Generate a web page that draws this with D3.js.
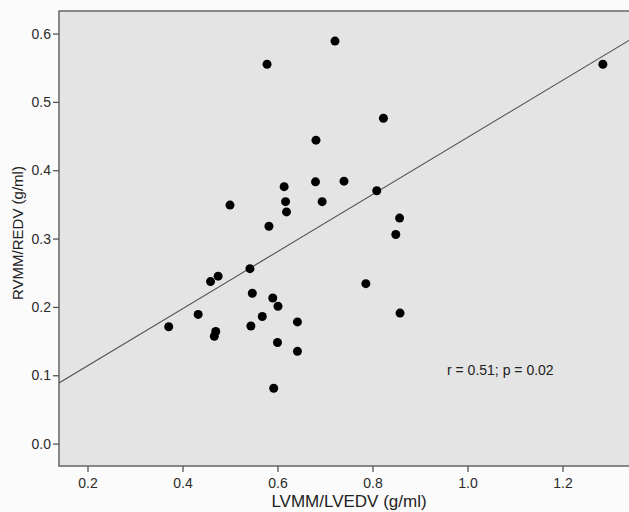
<!DOCTYPE html>
<html><head><meta charset="utf-8">
<script src="https://cdn.jsdelivr.net/npm/d3@7"></script>
<style>body{margin:0;background:#fff;} text{font-family:"Liberation Sans",Arial,sans-serif;}</style>
</head><body><svg id="c" width="629" height="512"></svg>
<script>
const lvmm = [0.371,0.433,0.459,0.475,0.470,0.467,0.542,0.547,0.544,0.568,0.590,0.601,0.600,0.642,0.642,0.592,0.582,0.500,0.619,0.617,0.614,0.680,0.694,0.740,0.681,0.823,0.578,0.721,0.809,0.857,0.849,0.786,0.858,1.285];
const rvmm = [0.171,0.189,0.237,0.245,0.164,0.157,0.256,0.220,0.172,0.186,0.213,0.201,0.148,0.178,0.135,0.081,0.318,0.349,0.339,0.354,0.376,0.383,0.354,0.384,0.444,0.476,0.555,0.589,0.370,0.330,0.306,0.234,0.191,0.555];
const xTicks = [0.2,0.4,0.6,0.8,1.0,1.2];
const yTicks = [0.0,0.1,0.2,0.3,0.4,0.5,0.6];
const fitLine = {intercept:0.0302, slope:0.4178};
const annotation = "r = 0.51; p = 0.02";
const xTitle = "LVMM/LVEDV (g/ml)";
const yTitle = "RVMM/REDV (g/ml)";

const svg = d3.select("#c");
const L=59, T=11, R=629, B=466;
const x = d3.scaleLinear().domain([0.14,1.34]).range([L,R]);
const y = d3.scaleLinear().domain([-0.0328,0.633]).range([B,T]);

svg.append("rect").attr("x",0).attr("y",0).attr("width",629).attr("height",512).attr("fill","#fbfbfb");
svg.append("rect").attr("x",L).attr("y",T).attr("width",R-L+2).attr("height",B-T).attr("fill","#e4e4e4").attr("stroke","#666").attr("stroke-width",1.5);

svg.append("clipPath").attr("id","cp").append("rect").attr("x",L).attr("y",T).attr("width",R-L).attr("height",B-T);

const xd = x.domain();
svg.append("line").attr("clip-path","url(#cp)")
  .attr("x1",x(xd[0])).attr("y1",y(fitLine.intercept+fitLine.slope*xd[0]))
  .attr("x2",x(xd[1])).attr("y2",y(fitLine.intercept+fitLine.slope*xd[1]))
  .attr("stroke","#555").attr("stroke-width",1.1);

svg.append("g").selectAll("circle").data(lvmm.map((v,i)=>[v,rvmm[i]])).join("circle")
  .attr("cx",d=>x(d[0])).attr("cy",d=>y(d[1])).attr("r",4.5).attr("fill","#000");

const ya = svg.append("g").attr("transform",`translate(${L},0)`)
  .call(d3.axisLeft(y).tickValues(yTicks).tickFormat(d3.format(".1f")).tickSize(6).tickPadding(2));
ya.select(".domain").remove();
ya.selectAll("line").attr("stroke","#555").attr("stroke-width",1.3);
ya.selectAll("text").attr("font-size",14).attr("fill","#2a2a2a").style("font-family","Liberation Sans, Arial, sans-serif");

const xa = svg.append("g").attr("transform",`translate(0,${B})`)
  .call(d3.axisBottom(x).tickValues(xTicks).tickFormat(d3.format(".1f")).tickSize(6).tickPadding(6));
xa.select(".domain").remove();
xa.selectAll("line").attr("stroke","#555").attr("stroke-width",1.3);
xa.selectAll("text").attr("font-size",14).attr("fill","#2a2a2a").style("font-family","Liberation Sans, Arial, sans-serif");

svg.append("text").attr("x",447).attr("y",375).attr("font-size",14).attr("fill","#222").text(annotation);
svg.append("text").attr("x",349).attr("y",507).attr("text-anchor","middle").attr("font-size",17).attr("fill","#222").text(xTitle);
svg.append("text").attr("transform","translate(23,233) rotate(-90)").attr("text-anchor","middle").attr("font-size",15).attr("fill","#222").text(yTitle);
</script></body></html>
